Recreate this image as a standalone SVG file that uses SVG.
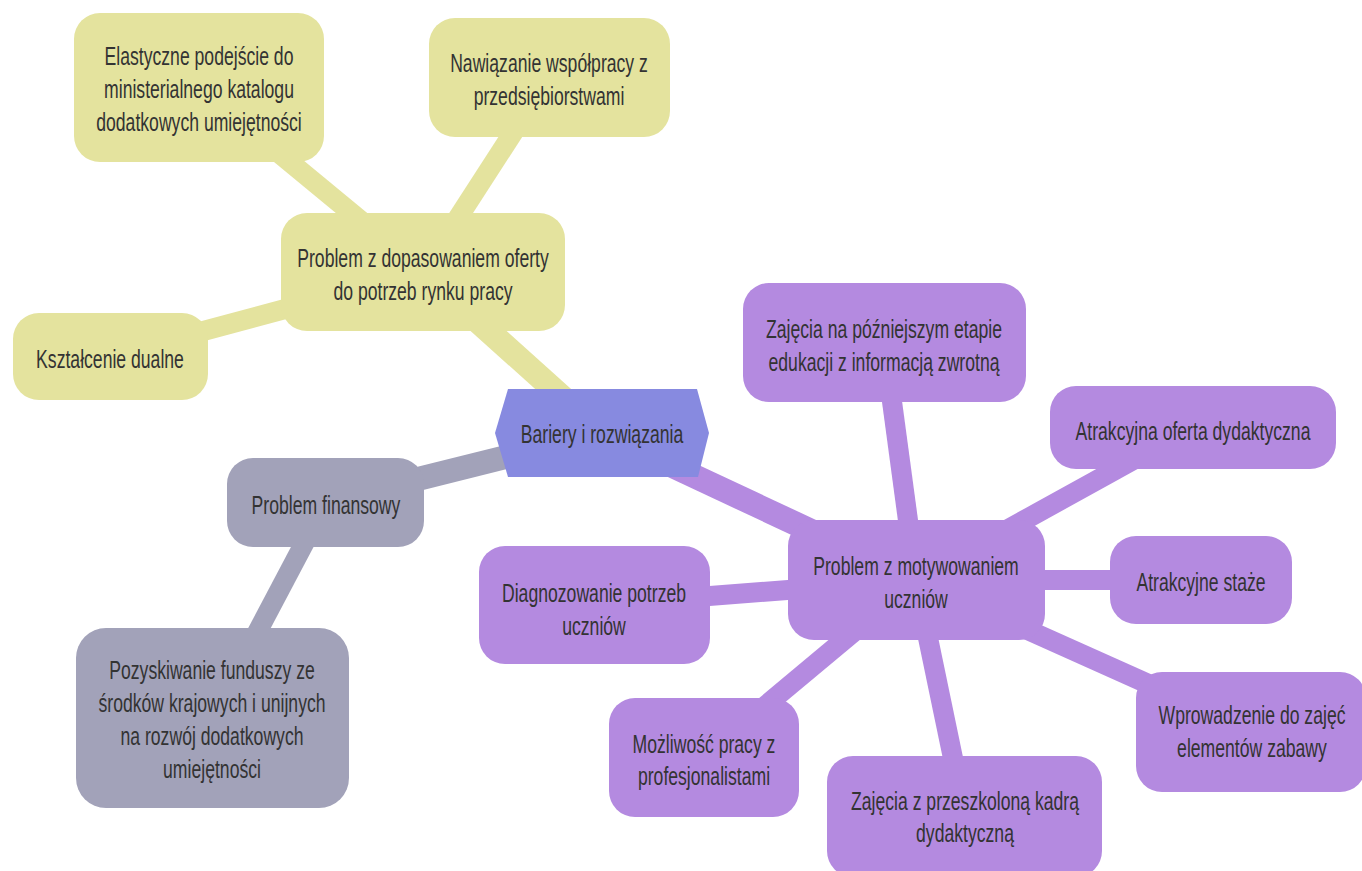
<svg xmlns="http://www.w3.org/2000/svg" width="1362" height="871" viewBox="0 0 1362 871">
<style>
.y{fill:#e4e39e}.p{fill:#b48ae0}.g{fill:#a2a2b9}.r{fill:#878ae0}
.ey{stroke:#e4e39e}.ep{stroke:#b48ae0}.eg{stroke:#a2a2b9}
.e1{stroke-width:24;fill:none}.e2{stroke-width:20;fill:none}
text{font-family:"Liberation Sans",Arial,sans-serif;font-size:25px;fill:#333;text-anchor:middle}
</style>
<rect width="1362" height="871" fill="#ffffff"/>
<g id="connectors">
<line class="ey e1" x1="602" y1="433" x2="423" y2="272"/>
<line class="eg e1" x1="602" y1="433" x2="326" y2="502"/>
<line class="ep e1" x1="602" y1="433" x2="916" y2="580"/>
<line class="ey e2" x1="423" y1="272" x2="199" y2="87"/>
<line class="ey e2" x1="423" y1="272" x2="549" y2="77"/>
<line class="ey e2" x1="423" y1="272" x2="110" y2="356"/>
<line class="eg e2" x1="326" y1="502" x2="212" y2="718"/>
<line class="ep e2" x1="916" y1="580" x2="884" y2="342"/>
<line class="ep e2" x1="916" y1="580" x2="1193" y2="427"/>
<line class="ep e2" x1="916" y1="580" x2="1201" y2="580"/>
<line class="ep e2" x1="916" y1="580" x2="594" y2="605"/>
<line class="ep e2" x1="916" y1="580" x2="704" y2="757"/>
<line class="ep e2" x1="916" y1="580" x2="965" y2="816"/>
<line class="ep e2" x1="916" y1="580" x2="1251" y2="730"/>
</g>
<g id="root">
<polygon class="r" points="495,433 508,389 697,389 709,433 698,477 508,477"/>
<g transform="translate(602 0) scale(0.705 1)"><text x="0" y="443">Bariery i rozwiązania</text></g>
</g>
<g id="n-dopasowanie">
<rect class="y" x="281" y="213" width="284" height="118" rx="26"/>
<g transform="translate(423 0) scale(0.705 1)"><text x="0" y="267">Problem z dopasowaniem oferty</text><text x="0" y="300">do potrzeb rynku pracy</text></g>
</g>
<g id="n-elastyczne">
<rect class="y" x="74" y="13" width="250" height="149" rx="26"/>
<g transform="translate(199 0) scale(0.705 1)"><text x="0" y="65">Elastyczne podejście do</text><text x="0" y="98">ministerialnego katalogu</text><text x="0" y="131">dodatkowych umiejętności</text></g>
</g>
<g id="n-nawiazanie">
<rect class="y" x="429" y="18" width="241" height="119" rx="26"/>
<g transform="translate(549 0) scale(0.705 1)"><text x="0" y="72">Nawiązanie współpracy z</text><text x="0" y="105">przedsiębiorstwami</text></g>
</g>
<g id="n-ksztalcenie">
<rect class="y" x="13" y="313" width="195" height="87" rx="26"/>
<g transform="translate(110 0) scale(0.705 1)"><text x="0" y="368">Kształcenie dualne</text></g>
</g>
<g id="n-finansowy">
<rect class="g" x="227" y="458" width="197" height="89" rx="26"/>
<g transform="translate(326 0) scale(0.705 1)"><text x="0" y="514">Problem finansowy</text></g>
</g>
<g id="n-pozyskiwanie">
<rect class="g" x="76" y="628" width="273" height="180" rx="30"/>
<g transform="translate(212 0) scale(0.705 1)"><text x="0" y="679">Pozyskiwanie funduszy ze</text><text x="0" y="712">środków krajowych i unijnych</text><text x="0" y="745">na rozwój dodatkowych</text><text x="0" y="778">umiejętności</text></g>
</g>
<g id="n-motywowanie">
<rect class="p" x="788" y="520" width="257" height="120" rx="26"/>
<g transform="translate(916 0) scale(0.705 1)"><text x="0" y="575">Problem z motywowaniem</text><text x="0" y="608">uczniów</text></g>
</g>
<g id="n-pozniejszy">
<rect class="p" x="743" y="283" width="283" height="119" rx="26"/>
<g transform="translate(884 0) scale(0.705 1)"><text x="0" y="338">Zajęcia na późniejszym etapie</text><text x="0" y="371">edukacji z informacją zwrotną</text></g>
</g>
<g id="n-oferta">
<rect class="p" x="1050" y="386" width="286" height="83" rx="26"/>
<g transform="translate(1193 0) scale(0.705 1)"><text x="0" y="440">Atrakcyjna oferta dydaktyczna</text></g>
</g>
<g id="n-staze">
<rect class="p" x="1110" y="536" width="182" height="88" rx="26"/>
<g transform="translate(1201 0) scale(0.705 1)"><text x="0" y="591">Atrakcyjne staże</text></g>
</g>
<g id="n-diagnozowanie">
<rect class="p" x="479" y="546" width="231" height="118" rx="26"/>
<g transform="translate(594 0) scale(0.705 1)"><text x="0" y="602">Diagnozowanie potrzeb</text><text x="0" y="635">uczniów</text></g>
</g>
<g id="n-mozliwosc">
<rect class="p" x="609" y="698" width="190" height="119" rx="26"/>
<g transform="translate(704 0) scale(0.705 1)"><text x="0" y="753">Możliwość pracy z</text><text x="0" y="785">profesjonalistami</text></g>
</g>
<g id="n-przeszkolona">
<rect class="p" x="827" y="756" width="275" height="121" rx="26"/>
<g transform="translate(965 0) scale(0.705 1)"><text x="0" y="810">Zajęcia z przeszkoloną kadrą</text><text x="0" y="842">dydaktyczną</text></g>
</g>
<g id="n-zabawa">
<rect class="p" x="1136" y="672" width="230" height="120" rx="26"/>
<g transform="translate(1252 0) scale(0.705 1)"><text x="0" y="724">Wprowadzenie do zajęć</text><text x="0" y="757">elementów zabawy</text></g>
</g>
</svg>
